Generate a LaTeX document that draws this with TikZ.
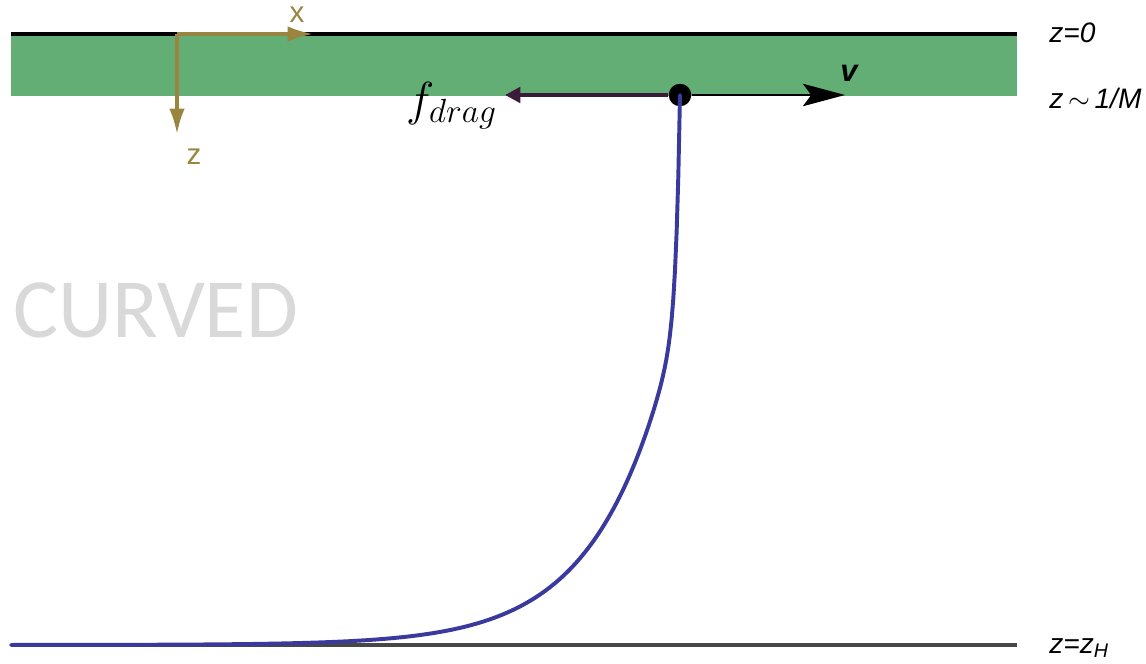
\documentclass[tikz,border=0pt]{standalone}
\usepackage{fix-cm}
\usepackage{fontspec}
\setsansfont{Liberation Sans}
\newfontfamily\watermark{Carlito}
\usetikzlibrary{arrows.meta}
\definecolor{SlabGreen}{RGB}{99,174,117}
\definecolor{AxisGold}{RGB}{153,133,64}
\definecolor{StringBlue}{RGB}{58,58,158}
\definecolor{DragPurple}{RGB}{60,26,60}

\begin{document}
\begin{tikzpicture}[x=0.025cm, y=-0.025cm,
    lvl/.style={anchor=west, font=\sffamily\itshape\fontsize{20}{20}\selectfont, inner sep=0pt},
    axis/.style={draw=AxisGold, line width=2.2pt, -{Latex[length=18pt,width=11pt]}},
    axlbl/.style={font=\sffamily\fontsize{21}{21}\selectfont, text=AxisGold, inner sep=0pt},
    horizon/.style={line width=2.4pt}
  ]
  \useasboundingbox (0,0) rectangle (1146,664);

  % slab and horizons
  \fill[SlabGreen] (11,35) rectangle (1017,96);
  \coordinate (topL) at (11,34);
  \coordinate (topR) at (1017,34);
  \coordinate (botL) at (11,645);
  \coordinate (botR) at (1017,645);
  \draw[horizon, black] (topL) -- (topR);
  \draw[horizon, line width=2.8pt, black!72] (botL) -- (botR);

  % level labels
  \node[lvl] (zzero) at (1049,33) {z=0};
  \node[lvl] (zslab) at (1049,98) {z\,$\sim$\,1/M};
  \node[lvl] (zhor) at (1049,648) {z=z\textsubscript{H}};

  % axes
  \coordinate (orig) at (177,34);
  \coordinate (xend) at (313,34);
  \coordinate (zend) at (177,134);
  \draw[axis] (orig) -- (xend);
  \draw[axis] (orig) -- (zend);
  \node[axlbl] (xlbl) at (297,15) {x};
  \node[axlbl] (zlbl) at (194,157) {z};

  % string endpoint
  \node[circle, fill=black, inner sep=0pt, minimum size=16pt] (quark) at (680,95) {};
  \coordinate (dragend) at (505,95);
  \coordinate (vend) at (845,95);
  \draw[line width=1.1pt, -{Stealth[length=30pt,width=16pt,inset=6pt]}] (quark) -- (vend);
  \draw[DragPurple, line width=3pt, -{Triangle[length=11pt,width=11pt]}] (quark.west) -- (dragend);
  \node[font=\sffamily\bfseries\itshape\fontsize{22}{22}\selectfont, inner sep=0pt] (vlbl) at (849,73) {v};
  \node[anchor=east, font=\fontsize{34}{34}\selectfont, inner sep=0pt] (flbl) at (497,106) {$f_{drag}$};

  % trailing string
  \draw[StringBlue, line width=2.8pt, line cap=round] (quark.center) -- plot[domain=0:669, samples=400]
      ({680-\x}, {645-335*exp(-\x/74)-215*exp(-\x/4)});

  % watermark
  \node[anchor=west, font=\watermark\fontsize{60}{60}\selectfont, text=black!15, inner sep=0pt] (curved) at (13,310) {CURVED};
\end{tikzpicture}
\end{document}
